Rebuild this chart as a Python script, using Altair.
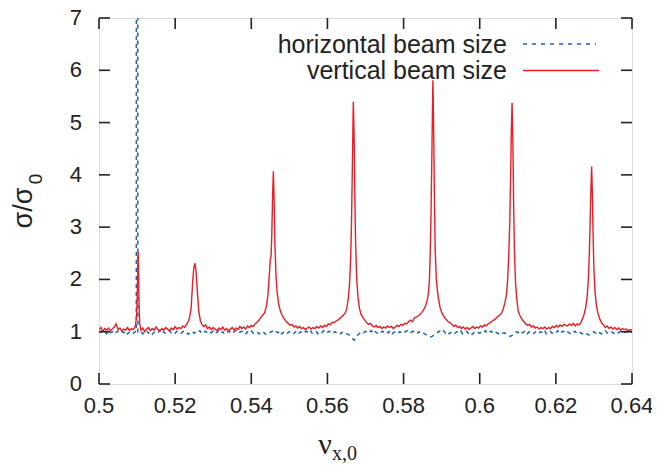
import altair as alt
import pandas as pd

# ---------------- data ----------------
red_x = [
    0.5000, 0.5005, 0.5010, 0.5015, 0.5020, 0.5025, 0.5030, 0.5035, 0.5040, 0.5045,
    0.5050, 0.5055, 0.5060, 0.5065, 0.5070, 0.5075, 0.5080, 0.5085, 0.5090, 0.5095,
    0.5099, 0.5101, 0.5103, 0.5105, 0.5107, 0.5110, 0.5115, 0.5120, 0.5125, 0.5130,
    0.5135, 0.5140, 0.5145, 0.5150, 0.5155, 0.5160, 0.5165, 0.5170, 0.5175, 0.5180,
    0.5185, 0.5190, 0.5195, 0.5200, 0.5205, 0.5210, 0.5215, 0.5220, 0.5225, 0.5230,
    0.5235, 0.5238, 0.5242, 0.5246, 0.5249, 0.5252, 0.5255, 0.5258, 0.5262, 0.5266,
    0.5270, 0.5275, 0.5280, 0.5285, 0.5290, 0.5295, 0.5300, 0.5305, 0.5310, 0.5315,
    0.5320, 0.5325, 0.5330, 0.5335, 0.5340, 0.5345, 0.5350, 0.5355, 0.5360, 0.5365,
    0.5370, 0.5375, 0.5380, 0.5385, 0.5390, 0.5395, 0.5400, 0.5405, 0.5410, 0.5415,
    0.5420, 0.5425, 0.5430, 0.5435, 0.5440, 0.5444, 0.5447, 0.5450, 0.5452, 0.5454,
    0.5456, 0.5458, 0.5460, 0.5462, 0.5465, 0.5468, 0.5472, 0.5477, 0.5482, 0.5487,
    0.5492, 0.5497, 0.5502, 0.5507, 0.5512, 0.5517, 0.5522, 0.5527, 0.5532, 0.5537,
    0.5542, 0.5547, 0.5552, 0.5557, 0.5562, 0.5567, 0.5572, 0.5577, 0.5582, 0.5587,
    0.5592, 0.5597, 0.5602, 0.5607, 0.5612, 0.5617, 0.5622, 0.5627, 0.5632, 0.5637,
    0.5642, 0.5647, 0.5651, 0.5655, 0.5658, 0.5661, 0.5663, 0.5665, 0.5667, 0.5668,
    0.5670, 0.5672, 0.5674, 0.5677, 0.5680, 0.5684, 0.5688, 0.5693, 0.5698, 0.5703,
    0.5708, 0.5713, 0.5718, 0.5723, 0.5728, 0.5733, 0.5738, 0.5743, 0.5748, 0.5753,
    0.5758, 0.5763, 0.5768, 0.5773, 0.5778, 0.5783, 0.5788, 0.5793, 0.5798, 0.5803,
    0.5808, 0.5813, 0.5818, 0.5823, 0.5828, 0.5833, 0.5838, 0.5843, 0.5848, 0.5853,
    0.5858, 0.5862, 0.5865, 0.5868, 0.5870, 0.5872, 0.5874, 0.5876, 0.5877, 0.5879,
    0.5881, 0.5883, 0.5886, 0.5889, 0.5892, 0.5896, 0.5900, 0.5905, 0.5910, 0.5916,
    0.5922, 0.5927, 0.5932, 0.5937, 0.5942, 0.5947, 0.5952, 0.5957, 0.5962, 0.5967,
    0.5972, 0.5977, 0.5982, 0.5987, 0.5992, 0.5997, 0.6002, 0.6007, 0.6012, 0.6017,
    0.6022, 0.6027, 0.6032, 0.6037, 0.6042, 0.6047, 0.6052, 0.6057, 0.6062, 0.6066,
    0.6070, 0.6073, 0.6076, 0.6079, 0.6081, 0.6083, 0.6085, 0.6087, 0.6089, 0.6091,
    0.6094, 0.6097, 0.6101, 0.6106, 0.6111, 0.6116, 0.6121, 0.6126, 0.6131, 0.6136,
    0.6141, 0.6146, 0.6151, 0.6156, 0.6161, 0.6166, 0.6171, 0.6176, 0.6181, 0.6186,
    0.6191, 0.6196, 0.6201, 0.6206, 0.6211, 0.6216, 0.6221, 0.6226, 0.6231, 0.6236,
    0.6241, 0.6246, 0.6251, 0.6256, 0.6261, 0.6266, 0.6270, 0.6274, 0.6278, 0.6282,
    0.6285, 0.6288, 0.6290, 0.6292, 0.6294, 0.6296, 0.6298, 0.6300, 0.6303, 0.6307,
    0.6311, 0.6315, 0.6320, 0.6325, 0.6330, 0.6335, 0.6340, 0.6345, 0.6350, 0.6355,
    0.6360, 0.6365, 0.6370, 0.6375, 0.6380, 0.6385, 0.6390, 0.6395, 0.6400,
]
red_y = [
    1.04, 1.08, 1.01, 1.06, 1.03, 1.07, 1.02, 1.05, 1.09, 1.15,
    1.04, 1.07, 1.01, 1.05, 1.03, 1.08, 1.02, 1.06, 1.04, 1.09,
    1.30, 1.90, 2.53, 1.60, 1.15, 1.03, 1.07, 1.00, 1.05, 1.08,
    1.02, 1.06, 1.03, 1.09, 1.04, 1.01, 1.06, 1.03, 1.08, 1.05,
    1.02, 1.07, 1.04, 1.10, 1.05, 1.08, 1.06, 1.11, 1.08, 1.14,
    1.20, 1.28, 1.45, 1.95, 2.22, 2.31, 2.15, 1.80, 1.40, 1.22,
    1.14, 1.10, 1.13, 1.06, 1.09, 1.04, 1.08, 1.05, 1.02, 1.07,
    1.04, 1.09, 1.03, 1.06, 1.02, 1.05, 1.08, 1.03, 1.07, 1.04,
    1.10, 1.06, 1.09, 1.05, 1.11, 1.08, 1.12, 1.10, 1.15, 1.18,
    1.22, 1.27, 1.32, 1.36, 1.50, 1.72, 2.05, 2.38, 2.45, 2.90,
    3.60, 4.07, 3.50, 2.70, 2.05, 1.75, 1.52, 1.38, 1.30, 1.24,
    1.19, 1.16, 1.12, 1.14, 1.09, 1.11, 1.07, 1.10, 1.06, 1.08,
    1.04, 1.07, 1.09, 1.05, 1.08, 1.06, 1.10, 1.07, 1.11, 1.08,
    1.12, 1.10, 1.15, 1.13, 1.18, 1.17, 1.20, 1.22, 1.25, 1.28,
    1.32, 1.36, 1.45, 1.65, 1.90, 2.40, 3.00, 3.90, 4.90, 5.40,
    4.80, 3.60, 2.70, 2.00, 1.68, 1.45, 1.34, 1.27, 1.22, 1.17,
    1.14, 1.16, 1.11, 1.09, 1.12, 1.08, 1.10, 1.06, 1.09, 1.07,
    1.11, 1.08, 1.10, 1.06, 1.09, 1.12, 1.10, 1.14, 1.12, 1.16,
    1.15, 1.19, 1.22, 1.19, 1.26, 1.28, 1.30, 1.33, 1.37, 1.42,
    1.50, 1.60, 1.72, 2.00, 2.50, 3.20, 4.20, 5.30, 5.81, 4.90,
    3.60, 2.60, 2.00, 1.78, 1.62, 1.46, 1.37, 1.30, 1.25, 1.20,
    1.17, 1.14, 1.10, 1.13, 1.08, 1.10, 1.06, 1.09, 1.05, 1.08,
    1.04, 1.07, 1.10, 1.06, 1.09, 1.07, 1.11, 1.09, 1.13, 1.11,
    1.15, 1.17, 1.20, 1.22, 1.25, 1.29, 1.31, 1.35, 1.44, 1.55,
    1.70, 1.95, 2.40, 3.10, 3.90, 4.80, 5.38, 4.70, 3.50, 2.60,
    1.95, 1.65, 1.40, 1.30, 1.24, 1.19, 1.15, 1.12, 1.14, 1.09,
    1.11, 1.07, 1.09, 1.05, 1.08, 1.06, 1.09, 1.05, 1.08, 1.06,
    1.10, 1.08, 1.12, 1.09, 1.13, 1.10, 1.14, 1.12, 1.11, 1.15,
    1.12, 1.16, 1.11, 1.15, 1.13, 1.18, 1.25, 1.33, 1.45, 1.65,
    1.95, 2.50, 3.10, 3.70, 4.16, 3.60, 2.80, 2.20, 1.75, 1.48,
    1.34, 1.25, 1.17, 1.13, 1.08, 1.11, 1.06, 1.09, 1.05, 1.08,
    1.04, 1.07, 1.03, 1.06, 1.04, 1.05, 1.02, 1.04, 1.03,
]

blue_x = [
    0.5000, 0.5005, 0.5010, 0.5015, 0.5020, 0.5025, 0.5030, 0.5035, 0.5040, 0.5045,
    0.5050, 0.5055, 0.5060, 0.5065, 0.5070, 0.5075, 0.5080, 0.5085, 0.5090, 0.5095,
    0.5098, 0.5099, 0.5101, 0.5102,
    0.5105, 0.5110, 0.5115, 0.5120, 0.5125, 0.5130, 0.5135, 0.5140, 0.5145, 0.5150,
    0.5155, 0.5160, 0.5165, 0.5170, 0.5175, 0.5180, 0.5185, 0.5190, 0.5195,
    0.5200, 0.5205, 0.5210, 0.5215, 0.5220, 0.5225, 0.5230, 0.5235, 0.5240, 0.5245,
    0.5250, 0.5255, 0.5260, 0.5265, 0.5270, 0.5275, 0.5280, 0.5285, 0.5290, 0.5295,
    0.5300, 0.5305, 0.5310, 0.5315, 0.5320, 0.5325, 0.5330, 0.5335, 0.5340, 0.5345,
    0.5350, 0.5355, 0.5360, 0.5365, 0.5370, 0.5375, 0.5380, 0.5385, 0.5390, 0.5395,
    0.5400, 0.5405, 0.5410, 0.5415, 0.5420, 0.5425, 0.5430, 0.5435, 0.5440, 0.5445,
    0.5450, 0.5455, 0.5460, 0.5465, 0.5470, 0.5475, 0.5480, 0.5485, 0.5490, 0.5495,
    0.5500, 0.5505, 0.5510, 0.5515, 0.5520, 0.5525, 0.5530, 0.5535, 0.5540, 0.5545,
    0.5550, 0.5555, 0.5560, 0.5565, 0.5570, 0.5575, 0.5580, 0.5585, 0.5590, 0.5595,
    0.5600, 0.5605, 0.5610, 0.5615, 0.5620, 0.5625, 0.5630, 0.5635, 0.5640, 0.5645,
    0.5650, 0.5655, 0.5660, 0.5665, 0.5670, 0.5675, 0.5680, 0.5685, 0.5690, 0.5695,
    0.5700, 0.5705, 0.5710, 0.5715, 0.5720, 0.5725, 0.5730, 0.5735, 0.5740, 0.5745,
    0.5750, 0.5755, 0.5760, 0.5765, 0.5770, 0.5775, 0.5780, 0.5785, 0.5790, 0.5795,
    0.5800, 0.5805, 0.5810, 0.5815, 0.5820, 0.5825, 0.5830, 0.5835, 0.5840, 0.5845,
    0.5850, 0.5855, 0.5860, 0.5865, 0.5870, 0.5875, 0.5880, 0.5885, 0.5890, 0.5895,
    0.5900, 0.5905, 0.5910, 0.5915, 0.5920, 0.5925, 0.5930, 0.5935, 0.5940, 0.5945,
    0.5950, 0.5955, 0.5960, 0.5965, 0.5970, 0.5975, 0.5980, 0.5985, 0.5990, 0.5995,
    0.6000, 0.6005, 0.6010, 0.6015, 0.6020, 0.6025, 0.6030, 0.6035, 0.6040, 0.6045,
    0.6050, 0.6055, 0.6060, 0.6065, 0.6070, 0.6075, 0.6080, 0.6085, 0.6090, 0.6095,
    0.6100, 0.6105, 0.6110, 0.6115, 0.6120, 0.6125, 0.6130, 0.6135, 0.6140, 0.6145,
    0.6150, 0.6155, 0.6160, 0.6165, 0.6170, 0.6175, 0.6180, 0.6185, 0.6190, 0.6195,
    0.6200, 0.6205, 0.6210, 0.6215, 0.6220, 0.6225, 0.6230, 0.6235, 0.6240, 0.6245,
    0.6250, 0.6255, 0.6260, 0.6265, 0.6270, 0.6275, 0.6280, 0.6285, 0.6290, 0.6295,
    0.6300, 0.6305, 0.6310, 0.6315, 0.6320, 0.6325, 0.6330, 0.6335, 0.6340, 0.6345,
    0.6350, 0.6355, 0.6360, 0.6365, 0.6370, 0.6375, 0.6380, 0.6385, 0.6390, 0.6395,
    0.6400,
]
blue_y = [
    0.99, 1.01, 0.97, 1.00, 0.96, 1.02, 0.98, 1.00, 0.95, 0.99,
    1.01, 0.97, 1.00, 0.98, 1.02, 0.96, 0.99, 1.01, 0.97, 1.00,
    1.00, 40.0, 40.0, 1.00,
    0.98, 1.01, 0.96, 0.99, 1.02, 0.97, 1.00, 0.95, 0.99, 1.01,
    0.98, 1.03, 0.97, 1.00, 0.96, 0.99, 1.02, 0.98, 1.00,
    0.97, 1.01, 0.99, 0.96, 1.00, 1.02, 0.98, 0.95, 0.99, 1.01,
    0.97, 1.00, 0.98, 1.02, 0.96, 0.99, 1.01, 0.97, 1.00, 0.98,
    1.01, 0.96, 0.99, 1.02, 0.97, 1.00, 0.95, 0.98, 1.01, 0.99,
    0.96, 1.00, 1.02, 0.97, 0.99, 1.01, 0.98, 0.95, 1.00, 0.98,
    1.02, 0.97, 0.99, 1.00, 0.96, 0.98, 1.01, 0.97, 0.94, 0.96,
    0.99, 1.01, 0.97, 1.00, 0.98, 1.02, 0.96, 0.99, 1.01, 0.97,
    1.00, 0.98, 0.95, 0.99, 1.02, 0.97, 1.00, 0.96, 0.99, 1.01,
    0.98, 1.03, 0.97, 0.99, 1.01, 0.96, 1.00, 0.98, 1.02, 0.97,
    0.99, 1.01, 0.96, 0.98, 1.00, 0.97, 0.99, 0.96, 1.00, 0.98,
    0.96, 0.95, 0.92, 0.87, 0.84, 0.89, 0.94, 0.97, 1.00, 0.98,
    1.01, 0.97, 0.99, 1.02, 0.96, 1.00, 0.98, 0.95, 0.99, 1.01,
    0.97, 1.00, 0.98, 1.02, 0.96, 0.99, 1.01, 0.97, 1.00, 0.98,
    0.96, 1.00, 1.02, 0.97, 0.99, 1.01, 0.98, 0.96, 1.00, 0.97,
    0.99, 0.96, 0.94, 0.92, 0.90, 0.91, 0.94, 0.97, 0.99, 1.01,
    0.98, 1.02, 0.97, 1.00, 0.96, 0.99, 1.01, 0.97, 1.00, 0.98,
    1.02, 0.96, 0.99, 1.01, 0.97, 1.00, 0.95, 0.98, 1.01, 0.99,
    0.97, 1.00, 0.98, 1.02, 0.96, 0.99, 1.01, 0.97, 1.00, 0.98,
    0.96, 0.99, 0.97, 0.98, 0.96, 0.93, 0.91, 0.93, 0.97, 1.00,
    0.98, 1.01, 0.97, 0.99, 1.02, 0.96, 1.00, 0.98, 0.95, 0.99,
    1.01, 0.97, 1.00, 0.98, 1.03, 0.96, 0.99, 1.01, 0.97, 1.00,
    0.98, 1.02, 0.96, 0.99, 1.01, 0.97, 1.00, 0.98, 0.95, 0.99,
    1.01, 0.97, 1.00, 0.98, 0.96, 0.99, 0.97, 0.94, 0.95, 0.98,
    1.00, 0.97, 1.01, 0.98, 0.96, 1.00, 1.02, 0.97, 0.99, 1.01,
    0.98, 0.96, 1.00, 0.98, 1.01, 0.97, 0.99, 1.00, 0.98, 1.01,
    0.99,
]

x_ticks = [0.50, 0.52, 0.54, 0.56, 0.58, 0.60, 0.62, 0.64]
x_tick_labels = ["0.5", "0.52", "0.54", "0.56", "0.58", "0.6", "0.62", "0.64"]
y_ticks = [0, 1, 2, 3, 4, 5, 6, 7]
y_tick_labels = ["0", "1", "2", "3", "4", "5", "6", "7"]
legend_labels = ["horizontal beam size", "vertical beam size"]

# ---------------- styling ----------------
RED = "#ec1c24"
BLUE = "#1f64b4"
INK = "#222222"
W, H = 533, 366
SANS = "Liberation Sans"
SERIF = "Liberation Serif"

red_df = pd.DataFrame({"nu": red_x, "sigma": red_y})
blue_df = pd.DataFrame({"nu": blue_x, "sigma": blue_y})

xscale = alt.Scale(domain=[0.5, 0.64], nice=False, zero=False)
yscale = alt.Scale(domain=[0, 7], nice=False, zero=False)

blue = alt.Chart(blue_df).mark_line(
    color=BLUE, strokeWidth=1.5, strokeDash=[4, 4], clip=True
).encode(
    x=alt.X("nu:Q", scale=xscale, axis=None),
    y=alt.Y("sigma:Q", scale=yscale, axis=None),
)

red = alt.Chart(red_df).mark_line(color=RED, strokeWidth=1.4, clip=True).encode(
    x=alt.X("nu:Q", scale=xscale, axis=None),
    y=alt.Y("sigma:Q", scale=yscale, axis=None),
)

xt = pd.DataFrame({"t": x_ticks, "lab": x_tick_labels})
yt = pd.DataFrame({"t": y_ticks, "lab": y_tick_labels})
TL = 11
tick_style = dict(color=INK, strokeWidth=1.6)
ticks_bottom = alt.Chart(xt).mark_rule(**tick_style).encode(
    x=alt.X("t:Q", scale=xscale, axis=None), y=alt.value(H), y2=alt.value(H - TL))
ticks_top = alt.Chart(xt).mark_rule(**tick_style).encode(
    x=alt.X("t:Q", scale=xscale, axis=None), y=alt.value(0), y2=alt.value(TL))
ticks_left = alt.Chart(yt).mark_rule(**tick_style).encode(
    y=alt.Y("t:Q", scale=yscale, axis=None), x=alt.value(0), x2=alt.value(TL))
ticks_right = alt.Chart(yt).mark_rule(**tick_style).encode(
    y=alt.Y("t:Q", scale=yscale, axis=None), x=alt.value(W), x2=alt.value(W - TL))

x_labels = alt.Chart(xt).mark_text(
    font=SANS, fontSize=22, color=INK, align="center", baseline="top"
).encode(x=alt.X("t:Q", scale=xscale, axis=None), y=alt.value(H + 12), text="lab:N")
y_labels = alt.Chart(yt).mark_text(
    font=SANS, fontSize=22, color=INK, align="right", baseline="middle"
).encode(y=alt.Y("t:Q", scale=yscale, axis=None), x=alt.value(-17), text="lab:N")

one = pd.DataFrame({"k": [0]})

leg_text1 = alt.Chart(pd.DataFrame({"label": [legend_labels[0]]})).mark_text(
    font=SANS, fontSize=25, color=INK, align="right", baseline="alphabetic"
).encode(text="label:N", x=alt.value(408), y=alt.value(35))
leg_text2 = alt.Chart(pd.DataFrame({"label": [legend_labels[1]]})).mark_text(
    font=SANS, fontSize=25, color=INK, align="right", baseline="alphabetic"
).encode(text="label:N", x=alt.value(408), y=alt.value(61))
leg_line1 = alt.Chart(one).mark_rule(color=BLUE, strokeWidth=1.4, strokeDash=[4, 5]).encode(
    x=alt.value(424), x2=alt.value(497), y=alt.value(26))
leg_line2 = alt.Chart(one).mark_rule(color=RED, strokeWidth=1.4).encode(
    x=alt.value(424), x2=alt.value(500), y=alt.value(52.5))

# axis titles (with subscripts)
ytitle_main = alt.Chart(pd.DataFrame({"s": ["σ/σ"]})).mark_text(
    font=SANS, fontSize=27, color=INK, angle=270, align="center", baseline="middle"
).encode(text="s:N", x=alt.value(-75), y=alt.value(190))
ytitle_sub = alt.Chart(pd.DataFrame({"s": ["0"]})).mark_text(
    font=SANS, fontSize=19, color=INK, angle=270, align="center", baseline="middle"
).encode(text="s:N", x=alt.value(-63), y=alt.value(161))
xtitle_main = alt.Chart(pd.DataFrame({"s": ["ν"]})).mark_text(
    font=SERIF, fontSize=30, color=INK, align="center", baseline="alphabetic"
).encode(text="s:N", x=alt.value(226), y=alt.value(436))
xtitle_sub = alt.Chart(pd.DataFrame({"s": ["x,0"]})).mark_text(
    font=SERIF, fontSize=20, color=INK, align="left", baseline="alphabetic"
).encode(text="s:N", x=alt.value(233), y=alt.value(442))

chart = alt.layer(
    blue, red, ticks_bottom, ticks_top, ticks_left, ticks_right,
    x_labels, y_labels,
    leg_line1, leg_line2, leg_text1, leg_text2,
    ytitle_main, ytitle_sub, xtitle_main, xtitle_sub,
).properties(
    width=W, height=H,
    autosize=alt.AutoSizeParams(type="none"),
    padding={"left": 91, "top": 10, "right": 20, "bottom": 80},
).configure_view(
    stroke=INK, strokeWidth=2
).configure(background="white")

chart.save("out.html", embed_options={"renderer": "svg", "actions": False})
